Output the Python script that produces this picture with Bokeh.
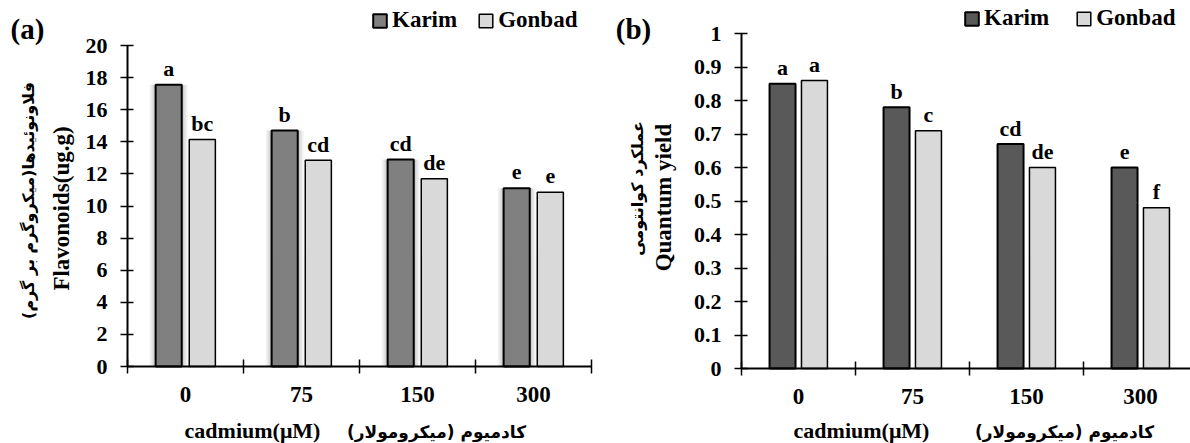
from bokeh.plotting import figure
from bokeh.models import ColumnDataSource, FixedTicker, Label, Legend, LegendItem, Range1d
from bokeh.layouts import row
from bokeh.embed import file_html
from bokeh.resources import INLINE
from bokeh.core.properties import value
import math

# ---------------- data ----------------
cadmium = ["0", "75", "150", "300"]
series = ["Karim", "Gonbad"]

flav_karim = [17.55, 14.7, 12.9, 11.1]
flav_gonbad = [14.15, 12.85, 11.7, 10.85]
flav_letters_karim = ["a", "b", "cd", "e"]
flav_letters_gonbad = ["bc", "cd", "de", "e"]
flav_ticks = [0, 2, 4, 6, 8, 10, 12, 14, 16, 18, 20]

qy_karim = [0.85, 0.78, 0.67, 0.60]
qy_gonbad = [0.86, 0.71, 0.60, 0.48]
qy_letters_karim = ["a", "b", "cd", "e"]
qy_letters_gonbad = ["a", "c", "de", "f"]
qy_ticks = [0, 0.1, 0.2, 0.3, 0.4, 0.5, 0.6, 0.7, 0.8, 0.9, 1]
qy_tick_labels = ["0", "0.1", "0.2", "0.3", "0.4", "0.5", "0.6", "0.7", "0.8", "0.9", "1"]

SERIF = "Liberation Serif"
ARAB = "DejaVu Sans"
W, H = 595, 443


def make_panel(karim, gonbad, lk, lg, yticks, ylabels, ymax, geom,
               col_k, col_g, tag, en_title, fa_title, shadow):
    g = geom
    # frame covers the whole figure; axes are pinned at x=0 / y=0
    x0 = -g["ax_x"] / g["ppx"]
    x1 = (W - g["ax_x"]) / g["ppx"]
    y0 = -(H - g["ax_y"]) / g["ppy"]
    y1 = g["ax_y"] / g["ppy"]
    p = figure(width=W, height=H, x_range=Range1d(x0, x1), y_range=Range1d(y0, y1),
               output_backend="svg", toolbar_location=None,
               min_border_left=0, min_border_right=0, min_border_top=0, min_border_bottom=0)
    p.xgrid.visible = False
    p.ygrid.visible = False
    p.outline_line_color = None

    centers = [i + 0.5 for i in range(len(cadmium))]
    off = g["off"]
    bw = g["bw"]
    src = ColumnDataSource(dict(
        xk=[c - off for c in centers], xg=[c + off for c in centers],
        karim=karim, gonbad=gonbad, lk=lk, lg=lg))

    if shadow:
        # soft drop shadow behind the Karim bars
        for extra, alpha in ((12, 0.05), (8, 0.07), (4, 0.10)):
            p.vbar(x="xk", top="karim", width=bw + extra / g["ppx"], source=src,
                   fill_color="black", fill_alpha=alpha, line_color=None)

    rk = p.vbar(x="xk", top="karim", width=bw, source=src, fill_color=col_k,
                line_color="black", line_width=2)
    rg = p.vbar(x="xg", top="gonbad", width=bw, source=src, fill_color=col_g,
                line_color="black", line_width=1.5)

    for xc, yc, tc in (("xk", "karim", "lk"), ("xg", "gonbad", "lg")):
        p.text(x=xc, y=yc, text=tc, source=src, text_align="center",
               text_baseline="alphabetic", y_offset=-16, text_font=value(SERIF),
               text_font_style="bold", text_font_size="22px", text_color="black")

    # x axis: category labels at centres, tick marks at category boundaries
    xa = p.xaxis[0]
    xa.fixed_location = 0
    xa.bounds = (0, min(4, x1))
    xa.ticker = FixedTicker(ticks=centers, minor_ticks=[0, 1, 2, 3, 4])
    xa.major_label_overrides = {c: lab for c, lab in zip(centers, cadmium)}
    xa.major_tick_line_color = None
    xa.major_tick_in = 0
    xa.major_tick_out = 0
    xa.minor_tick_in = 7
    xa.minor_tick_out = 7
    xa.minor_tick_line_color = "black"
    xa.minor_tick_line_width = 1.5
    xa.axis_line_width = 2
    xa.axis_line_color = "black"
    xa.major_label_standoff = 13
    xa.major_label_text_font = SERIF
    xa.major_label_text_font_style = "bold"
    xa.major_label_text_font_size = "23px"
    xa.major_label_text_color = "black"

    ya = p.yaxis[0]
    ya.fixed_location = 0
    ya.bounds = (0, ymax)
    ya.ticker = FixedTicker(ticks=yticks, minor_ticks=[])
    ya.major_label_overrides = {t: s for t, s in zip(yticks, ylabels)}
    ya.major_tick_in = 6
    ya.major_tick_out = 7
    ya.major_tick_line_width = 1.5
    ya.major_tick_line_color = "black"
    ya.axis_line_width = 2
    ya.axis_line_color = "black"
    ya.major_label_standoff = 13
    ya.major_label_text_font = SERIF
    ya.major_label_text_font_style = "bold"
    ya.major_label_text_font_size = "22px"
    ya.major_label_text_color = "black"

    legend = Legend(items=[LegendItem(label=series[0], renderers=[rk]),
                           LegendItem(label=series[1], renderers=[rg])],
                    orientation="horizontal", location=g["legend"],
                    border_line_color=None, background_fill_alpha=0,
                    label_text_font=SERIF, label_text_font_style="bold",
                    label_text_font_size="23px", label_text_color="black",
                    glyph_width=17, glyph_height=17, label_standoff=4,
                    spacing=g["spacing"], padding=0, margin=0)
    p.add_layout(legend, "center")

    def lab(pos, text, font, size, angle=0):
        p.add_layout(Label(x=pos[0], y=pos[1], x_units="screen", y_units="screen", text=text,
                           text_font=font, text_font_style="bold", text_font_size=size,
                           text_align="center", text_baseline="middle", angle=angle,
                           text_color="black"))

    lab(g["tag"], tag, SERIF, "29px")
    lab(g["en_y"], en_title, SERIF, "23px", angle=math.pi / 2)
    lab(g["fa_y"], fa_title, ARAB, "16px", angle=math.pi / 2)
    lab(g["en_x"], "cadmium(μM)", SERIF, "22px")
    lab(g["fa_x"], "کادمیوم (میکرومولار)", ARAB, "17px")
    return p


geom_a = dict(ax_x=127, ax_y=366, ppx=116, ppy=16.05, off=0.145, bw=0.225,
              legend=(371, 410), spacing=20,
              tag=(27, 415), en_y=(61, 235), fa_y=(28, 243),
              en_x=(252, 13), fa_x=(436, 12))
geom_b = dict(ax_x=146, ax_y=368, ppx=114, ppy=335, off=0.14, bw=0.228,
              legend=(368, 412), spacing=26,
              tag=(38, 415), en_y=(68, 246), fa_y=(42, 255),
              en_x=(266, 13), fa_x=(469, 12))

pa = make_panel(flav_karim, flav_gonbad, flav_letters_karim, flav_letters_gonbad,
                flav_ticks, [str(t) for t in flav_ticks], 20, geom_a,
                "#808080", "#d9d9d9", "(a)", "Flavonoids(ug.g)",
                "فلاونوئیدها(میکروگرم بر گرم)", True)
pb = make_panel(qy_karim, qy_gonbad, qy_letters_karim, qy_letters_gonbad,
                qy_ticks, qy_tick_labels, 1, geom_b,
                "#595959", "#d9d9d9", "(b)", "Quantum yield",
                "عملکرد کوانتومی", False)

layout = row(pa, pb)
open("out.html", "w").write(file_html(layout, INLINE))
